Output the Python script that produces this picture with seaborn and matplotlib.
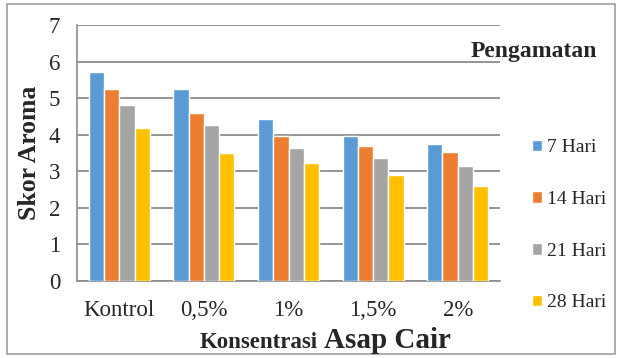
import numpy as np
import pandas as pd
import matplotlib.pyplot as plt
import seaborn as sns
from matplotlib.patches import Rectangle

# data
categories = ['Kontrol', '0,5%', '1%', '1,5%', '2%']
series_names = ['7 Hari', '14 Hari', '21 Hari', '28 Hari']
hari_7 = [5.71, 5.25, 4.43, 3.97, 3.75]
hari_14 = [5.25, 4.59, 3.97, 3.69, 3.53]
hari_21 = [4.81, 4.27, 3.64, 3.36, 3.14]
hari_28 = [4.18, 3.50, 3.23, 2.90, 2.60]
y_ticks = [0, 1, 2, 3, 4, 5, 6, 7]

colors = ['#5B9BD5', '#ED7D31', '#A5A5A5', '#FFC000']

df = pd.DataFrame({
    'Konsentrasi': categories * 4,
    'Pengamatan': np.repeat(series_names, len(categories)),
    'Skor': hari_7 + hari_14 + hari_21 + hari_28,
})

sns.set_style('white')
plt.rcParams['font.family'] = ['Liberation Serif', 'DejaVu Serif']

fig = plt.figure(figsize=(6.21, 3.58), dpi=100)
ax = fig.add_axes([77 / 621, 1 - 281 / 358, 423 / 621, 256 / 358])

sns.barplot(data=df, x='Konsentrasi', y='Skor', hue='Pengamatan',
            palette=colors, width=0.72, saturation=1, ax=ax, legend=False,
            zorder=3)

ax.set_ylim(0, 7)
ax.set_yticks(y_ticks)
ax.set_yticklabels([str(t) for t in y_ticks], fontsize=16.5)
ax.tick_params(axis='x', labelsize=16.5, length=0, pad=14)
ax.tick_params(axis='y', length=0, pad=12)
ax.grid(axis='y', color='#8c8c8c', linewidth=1.3, zorder=0)
for s in ['top', 'right']:
    ax.spines[s].set_visible(False)
ax.spines['left'].set_color('#8c8c8c')
ax.spines['bottom'].set_color('#8c8c8c')
ax.spines['left'].set_linewidth(1.2)
ax.spines['bottom'].set_linewidth(1.2)
ax.set_xlabel('')
ax.set_ylabel('Skor Aroma', fontsize=18.5, fontweight='bold', labelpad=6)

# x axis title in two sizes
fig.text(318 / 621, 1 - 348 / 358, 'Konsentrasi', fontsize=16.5, fontweight='bold',
         ha='right', va='baseline')
fig.text(324 / 621, 1 - 348 / 358, 'Asap Cair', fontsize=21, fontweight='bold',
         ha='left', va='baseline')

# legend
fig.text(597 / 621, 1 - 51 / 358, 'Pengamatan', fontsize=17, fontweight='bold',
         ha='right', va='center')
handles = [Rectangle((0, 0), 1, 1, facecolor=c) for c in colors]
fig.legend(handles, series_names, loc='upper left',
           bbox_to_anchor=(514 / 621, 1 - 122 / 358), frameon=False,
           fontsize=14, handlelength=0.55, handleheight=0.55, handletextpad=0.25,
           labelspacing=1.78)

# outer border
fig.patches.append(Rectangle((7 / 621, 4 / 358), 608 / 621, 350 / 358,
                             transform=fig.transFigure, fill=False,
                             edgecolor='#a0a0a0', linewidth=1.2))

fig.savefig('out.png', dpi=100)
